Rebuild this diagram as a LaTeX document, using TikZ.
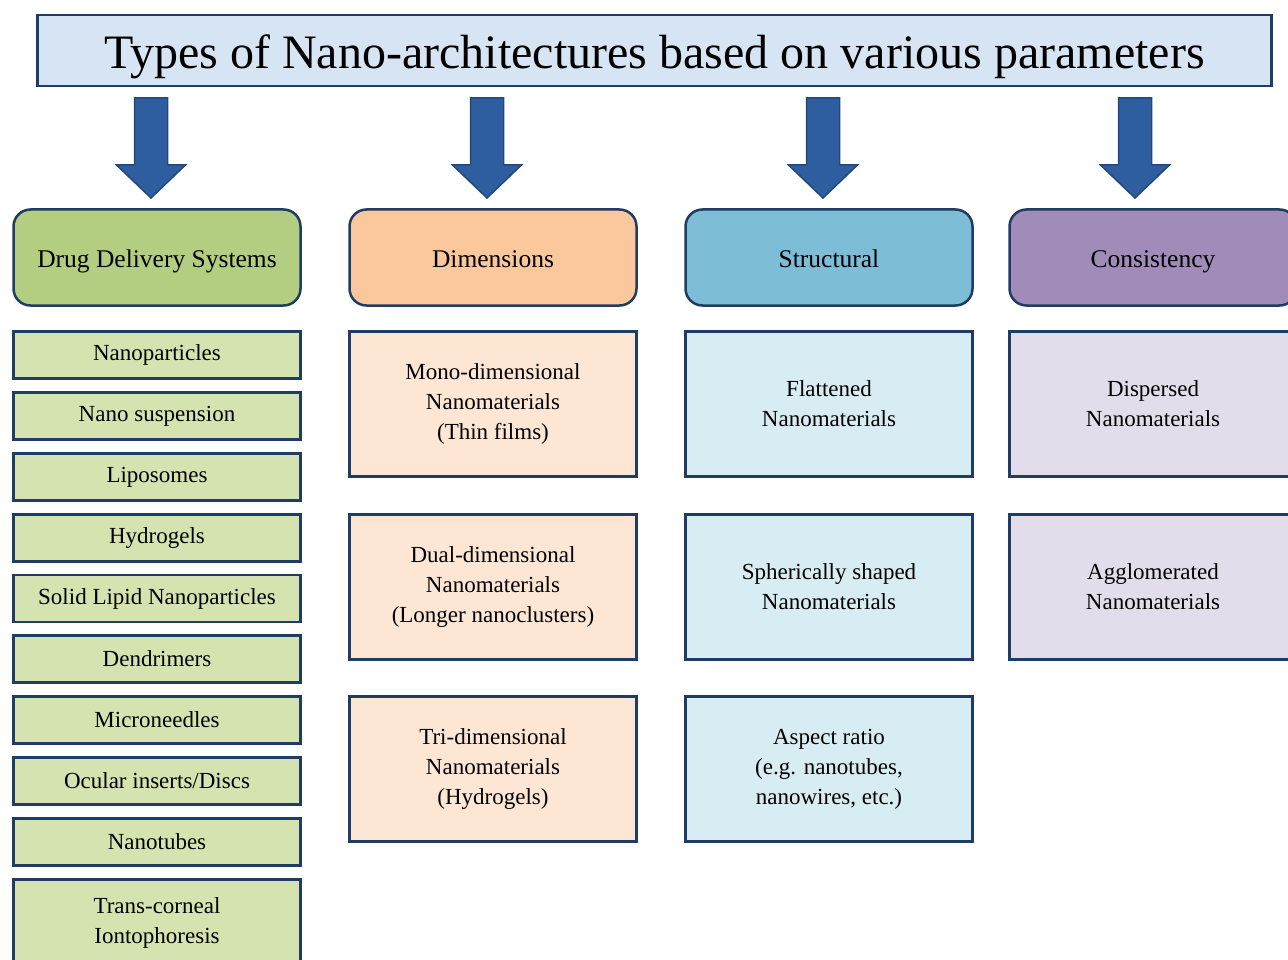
\documentclass[tikz,border=0pt]{standalone}
\usepackage{fontspec}
\setmainfont{Liberation Serif}
\usetikzlibrary{calc}
\definecolor{navy}{RGB}{31,60,100}
\definecolor{titlefill}{RGB}{215,228,243}
\definecolor{arrowfill}{RGB}{47,94,160}
\definecolor{arrowline}{RGB}{36,72,122}
\definecolor{hgreen}{RGB}{179,206,128}
\definecolor{horange}{RGB}{251,200,158}
\definecolor{hblue}{RGB}{125,189,214}
\definecolor{hpurple}{RGB}{160,139,185}
\definecolor{lgreen}{RGB}{212,227,176}
\definecolor{lorange}{RGB}{253,230,212}
\definecolor{lblue}{RGB}{216,236,244}
\definecolor{lpurple}{RGB}{227,221,235}
\begin{document}
\begin{tikzpicture}[x=1pt,y=-1pt,
  titlebox/.style={draw=navy, line width=2.5pt, fill=titlefill, anchor=north west, inner sep=0pt, outer sep=0pt,
    minimum width=1234pt, minimum height=71pt, text height=37pt, text depth=0pt, font=\fontsize{48}{52}\selectfont},
  headbox/.style={draw=navy, line width=2.5pt, rounded corners=17pt, anchor=north west, inner sep=0pt, outer sep=0pt,
    minimum width=287pt, minimum height=96pt, text height=21pt, text depth=0pt, font=\fontsize{25.5}{30}\selectfont},
  itembox/.style={draw=navy, line width=2.5pt, anchor=north west, inner sep=0pt, outer sep=0pt, align=center,
    minimum width=287pt, minimum height=47pt, font=\fontsize{23}{30}\selectfont, fill=lgreen},
  bigbox/.style={draw=navy, line width=2.5pt, anchor=north west, inner sep=0pt, outer sep=0pt, align=center,
    minimum width=287pt, minimum height=145pt, font=\fontsize{23}{30}\selectfont},
  barrow/.style={draw=arrowline, fill=arrowfill, line width=1.5pt, line join=miter}
]
\useasboundingbox (0,0) rectangle (1288,960);
\clip (0,0) rectangle (1288,960);
\fill[white] (0,0) rectangle (1288,960);

% title
\node[titlebox] (title) at (37.5,15) {Types of Nano-architectures based on various parameters};

% headers
\node[headbox, fill=hgreen]  (h1) at (13.5,209.5) {Drug Delivery Systems};
\node[headbox, fill=horange] (h2) at (349.5,209.5) {Dimensions};
\node[headbox, fill=hblue]   (h3) at (685.5,209.5) {Structural};
\node[headbox, fill=hpurple] (h4) at (1009.5,209.5) {Consistency};

% block arrows
\foreach \n/\x in {1/151,2/487,3/823,4/1135}{
  \coordinate (a\n) at (\x,98);
  \draw[barrow] (a\n) ++(-16.5,0) -- ++(0,67) -- ++(-18,0) -- ++(34.5,33) -- ++(34.5,-33) -- ++(-18,0) -- ++(0,-67) -- cycle;
}

% drug delivery items
\node[itembox] (d1) at (13.5,331.5) {Nanoparticles};
\node[itembox] (d2) at (13.5,392.5) {Nano suspension};
\node[itembox] (d3) at (13.5,453.5) {Liposomes};
\node[itembox] (d4) at (13.5,514.5) {Hydrogels};
\node[itembox] (d5) at (13.5,575.0) {Solid Lipid Nanoparticles};
\node[itembox] (d6) at (13.5,635.5) {Dendrimers};
\node[itembox] (d7) at (13.5,696.5) {Microneedles};
\node[itembox] (d8) at (13.5,757.5) {Ocular inserts/Discs};
\node[itembox] (d9) at (13.5,818.5) {Nanotubes};
\node[itembox, minimum height=86pt] (d10) at (13.5,879.5) {Trans-corneal\\Iontophoresis};

% dimensions
\node[bigbox, fill=lorange] (m1) at (349.5,331.5) {Mono-dimensional\\Nanomaterials\\(Thin films)};
\node[bigbox, fill=lorange] (m2) at (349.5,514.5) {Dual-dimensional\\Nanomaterials\\(Longer nanoclusters)};
\node[bigbox, fill=lorange] (m3) at (349.5,696.5) {Tri-dimensional\\Nanomaterials\\(Hydrogels)};

% structural
\node[bigbox, fill=lblue] (s1) at (685.5,331.5) {Flattened\\Nanomaterials};
\node[bigbox, fill=lblue] (s2) at (685.5,514.5) {Spherically shaped\\Nanomaterials};
\node[bigbox, fill=lblue] (s3) at (685.5,696.5) {Aspect ratio\\(e.g. nanotubes,\\nanowires, etc.)};

% consistency
\node[bigbox, fill=lpurple] (c1) at (1009.5,331.5) {Dispersed\\Nanomaterials};
\node[bigbox, fill=lpurple] (c2) at (1009.5,514.5) {Agglomerated\\Nanomaterials};
\end{tikzpicture}
\end{document}
